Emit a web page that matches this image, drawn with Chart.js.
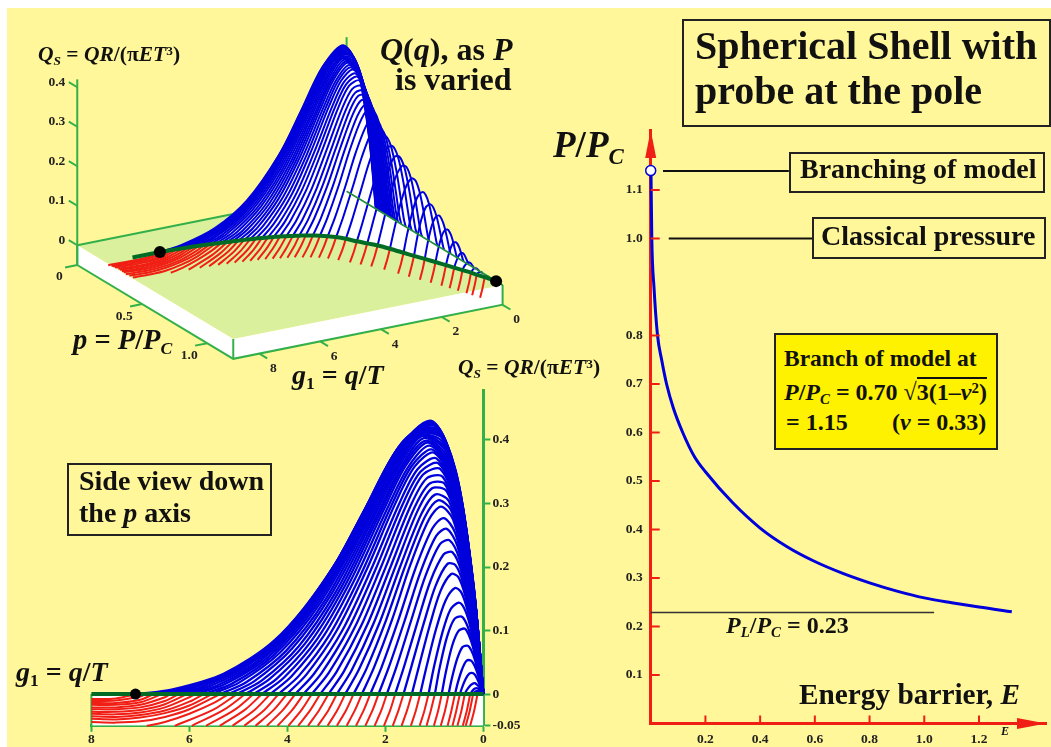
<!DOCTYPE html>
<html>
<head>
<meta charset="utf-8">
<script src="https://cdn.jsdelivr.net/npm/chart.js@4"></script>
<style>
html,body{margin:0;padding:0;background:#fff;overflow:hidden}
#page{position:absolute;left:7px;top:8px;width:1044px;height:739px;background:#FFF799}
canvas{position:absolute;left:0;top:0}
.t{position:absolute;white-space:nowrap;line-height:1;font-family:"Liberation Serif",serif;font-weight:bold;color:#111}
.t sub{font-size:.62em;line-height:0;vertical-align:-.3em}
.t sup{font-size:.62em;line-height:0;vertical-align:.45em}
.box{position:absolute;box-sizing:border-box;border:2px solid #222}
</style>
</head>
<body>
<div id="page"></div>
<canvas id="surface" width="1051" height="747"></canvas>
<canvas id="side" width="1051" height="747"></canvas>
<canvas id="barrier" width="1051" height="747"></canvas>

<div class="box" style="left:682px;top:19px;width:369px;height:108px"></div>
<div class="t" style="left:695px;top:26px;font-size:40px">Spherical Shell with</div>
<div class="t" style="left:695px;top:71px;font-size:40px">probe at the pole</div>
<div class="t" style="left:553px;top:126px;font-size:37px"><i>P</i>/<i>P<sub>C</sub></i></div>
<div class="box" style="left:789px;top:152px;width:256px;height:41px"></div>
<div class="t" style="left:800px;top:155px;font-size:28px">Branching of model</div>
<div class="box" style="left:812px;top:217px;width:234px;height:42px"></div>
<div class="t" style="left:821px;top:222px;font-size:28px">Classical pressure</div>
<div class="box" style="left:774px;top:333px;width:224px;height:117px;background:#FFF200"></div>
<div class="t" style="left:784px;top:347px;font-size:23.5px">Branch of model at</div>
<div class="t" style="left:784px;top:380px;font-size:24px"><i>P</i>/<i>P<sub>C</sub></i> = 0.70 √<span style="border-top:2px solid #111">3(1–<i>v</i><sup>2</sup>)</span></div>
<div class="t" style="left:786px;top:410px;font-size:24px">= 1.15</div>
<div class="t" style="left:892px;top:410px;font-size:24px">(<i>v</i> = 0.33)</div>
<div class="t" style="left:726px;top:613px;font-size:24px"><i>P<sub>L</sub></i>/<i>P<sub>C</sub></i> = 0.23</div>
<div class="t" style="left:799px;top:680px;font-size:29.3px">Energy barrier, <i>E</i></div>
<div class="t" style="left:1001px;top:725px;font-size:12px"><i>E</i></div>

<div class="t" style="left:38px;top:44px;font-size:21.5px"><i>Q<sub>S</sub></i> = <i>QR</i>/(π<i>ET</i><sup>3</sup>)</div>
<div class="t" style="left:380px;top:33px;font-size:32px"><i>Q</i>(<i>q</i>), as <i>P</i></div>
<div class="t" style="left:395px;top:63px;font-size:32px">is varied</div>
<div class="t" style="left:73px;top:326px;font-size:28.5px"><i>p</i> = <i>P</i>/<i>P<sub>C</sub></i></div>
<div class="t" style="left:292px;top:361px;font-size:28px"><i>g</i><sub>1</sub> = <i>q</i>/<i>T</i></div>
<div class="t" style="left:458px;top:357px;font-size:21.5px"><i>Q<sub>S</sub></i> = <i>QR</i>/(π<i>ET</i><sup>3</sup>)</div>
<div class="box" style="left:67px;top:463px;width:205px;height:73px"></div>
<div class="t" style="left:79px;top:467px;font-size:28px">Side view down</div>
<div class="t" style="left:79px;top:499px;font-size:28px">the <i>p</i> axis</div>
<div class="t" style="left:16px;top:658px;font-size:28px"><i>g</i><sub>1</sub> = <i>q</i>/<i>T</i></div>

<script>
// where each curve of the family crosses Q=0, and the P/Pc it belongs to
var zeroG=[.12,.21,.27,.38,.48,.58,.71,.85,.99,1.12,1.29,1.46,1.63,1.8,1.97,2.14,2.31,2.48,2.65,2.82,2.99,3.16,3.33,3.5,3.67,3.84,4.01,4.18,4.35,4.52,4.69,4.86,5.03,5.2,5.37,5.54,5.71,5.88,6.05,6.22,6.39,6.56,6.73,6.9,7.07];
var curveP=[1.09,1.05,1.02,.98,.94,.9,.85,.8,.75,.7,.635,.58,.54,.5,.455,.42,.395,.375,.36,.345,.335,.325,.315,.305,.298,.292,.286,.28,.275,.27,.266,.262,.258,.254,.25,.246,.242,.238,.236,.234,.232,.23,.228,.226,.224];
// positive part, read at these fractions of the crossing point
var frac=[.03,.08,.15,.25,.35,.45,.6,.75,.9];
var blueQ=[
[.000,.000,.001,.001,.002,.002,.002,.001,.001],
[.000,.001,.002,.004,.004,.005,.005,.004,.002],
[.001,.002,.004,.006,.008,.009,.009,.007,.003],
[.001,.004,.007,.012,.015,.017,.016,.012,.006],
[.002,.007,.014,.023,.030,.033,.032,.024,.011],
[.004,.012,.024,.038,.048,.053,.052,.039,.018],
[.005,.017,.034,.055,.069,.076,.074,.056,.026],
[.007,.023,.046,.074,.093,.103,.099,.076,.035],
[.008,.027,.054,.088,.111,.122,.118,.090,.042],
[.009,.033,.068,.110,.135,.144,.133,.096,.043],
[.011,.040,.082,.131,.160,.167,.147,.102,.043],
[.012,.046,.096,.153,.184,.189,.162,.108,.044],
[.014,.054,.111,.173,.203,.205,.170,.110,.044],
[.017,.062,.126,.193,.223,.220,.178,.112,.043],
[.019,.070,.141,.213,.242,.236,.186,.115,.043],
[.023,.082,.159,.234,.260,.249,.192,.116,.043],
[.028,.094,.178,.254,.277,.261,.198,.117,.042],
[.032,.106,.196,.275,.295,.274,.204,.118,.042],
[.037,.118,.213,.290,.305,.279,.203,.116,.040],
[.043,.131,.229,.304,.314,.283,.202,.113,.039],
[.048,.143,.246,.319,.324,.288,.201,.111,.037],
[.054,.155,.260,.331,.331,.291,.200,.109,.036],
[.060,.166,.275,.342,.339,.294,.199,.107,.035],
[.066,.178,.289,.354,.346,.297,.198,.105,.034],
[.072,.189,.301,.363,.350,.298,.196,.103,.033],
[.078,.200,.312,.371,.354,.298,.194,.100,.032],
[.084,.211,.324,.380,.358,.299,.192,.098,.031],
[.090,.221,.334,.385,.359,.296,.187,.094,.029],
[.096,.231,.344,.391,.359,.293,.183,.091,.028],
[.102,.241,.354,.396,.360,.290,.178,.087,.026],
[.109,.252,.363,.399,.358,.285,.172,.083,.024],
[.115,.262,.372,.403,.355,.279,.166,.079,.023],
[.122,.273,.381,.406,.353,.274,.160,.075,.021],
[.129,.282,.388,.407,.350,.268,.155,.072,.020],
[.136,.291,.395,.407,.346,.263,.149,.068,.019],
[.143,.300,.402,.408,.343,.257,.144,.065,.018],
[.147,.306,.406,.407,.338,.250,.138,.061,.016],
[.150,.312,.410,.406,.332,.243,.132,.057,.015],
[.154,.318,.414,.405,.327,.236,.126,.053,.013],
[.158,.324,.417,.403,.321,.229,.119,.049,.012],
[.162,.329,.421,.400,.314,.221,.112,.046,.011],
[.166,.335,.424,.398,.308,.214,.105,.042,.010],
[.170,.341,.426,.393,.300,.204,.099,.039,.009],
[.175,.346,.428,.389,.291,.195,.092,.035,.008],
[.179,.352,.430,.384,.283,.185,.086,.032,.007]
];
// negative part: nearly straight stripes, g where Q is stripeQ
var stripeQ=[-.025,-.05];
var stripeG=[[.185,.27],[.275,.36],[.335,.42],[.445,.53],[.55,.63],[.65,.73],[.78,.87],[.92,1.01],[1.07,1.16],[1.2,1.3],[1.375,1.48],[1.555,1.67],[1.73,1.85],[1.9,2.03],[2.08,2.22],[2.26,2.41],[2.44,2.6],[2.62,2.79],[2.8,2.99],[2.98,3.18],[3.16,3.38],[3.35,3.58],[3.53,3.78],[3.71,3.98],[3.9,4.2],[4.09,4.42],[4.28,4.65],[4.47,4.88],[4.67,5.12],[4.87,5.38],[5.08,5.66],[5.3,5.95],[5.52,6.3]];
// negative part of the last curves: shallow arcs, cut at g=8 in the side view only
var arcG=[[5.5,6,6.5,6.87],[6,6.5,7,7.5,8,8.1],[6,6.5,7,7.5,8,8.2],[6,6.5,7,7.5,8,8.3],[6,6.5,7,7.5,8,8.35],[6.5,7,7.5,8,8.4],[6.5,7,7.5,8,8.45],[6.5,7,7.5,8,8.5],[7,7.5,8,8.6],[7,7.5,8,8.65],[7,7.5,8,8.7],[7.5,8,8.8]];
var arcQ=[[-.014,-.031,-.044,-.05],[-.024,-.036,-.043,-.045,-.044,-.044],[-.018,-.03,-.037,-.04,-.039,-.038],[-.012,-.026,-.033,-.036,-.035,-.034],[-.005,-.021,-.029,-.032,-.031,-.029],[-.016,-.025,-.028,-.028,-.026],[-.011,-.021,-.024,-.024,-.022],[-.005,-.017,-.021,-.021,-.019],[-.013,-.017,-.017,-.015],[-.009,-.014,-.014,-.012],[-.004,-.01,-.011,-.01],[-.007,-.008,-.007]];
var branchP=1.15, limitP=.224, limitG=7.1;

// axes of the two left views
var plateG=8.86, plateP=1.2, plateZ=-.05;
var gTicks=[8,6,4,2,0];
var pTicks=[0,.5,1];
var pLabels=["0","0.5","1.0"];
var zTicks=[0,.1,.2,.3,.4];
var zLabels=["0","0.1","0.2","0.3","0.4"];
var sideTicks=[-.05,0,.1,.2,.3,.4];

// right plot
var energyE=[.001,.004,.012,.025,.04,.058,.083,.117,.16,.2,.3,.4,.5,.6,.7,.8,.9,1,1.1,1.2,1.32];
var energyP=[1.14,1,.9,.8,.75,.7,.65,.6,.55,.519,.455,.403,.364,.334,.31,.29,.273,.259,.249,.24,.2305];
var eTicks=[.2,.4,.6,.8,1,1.2];
var barrierTicks=[.1,.2,.3,.4,.5,.6,.7,.8,1,1.1];
var limitLineE=[0,1.036];
var limitLineP=[.229,.229];
var branchLineE=[.045,.505];
var classicLineE=[.066,.59];

var BLUE="#0000DC", RED="#F01E14", GREEN="#33B04A", DARK="#006B24", FLOOR="#DAF09C", TICKFONT='bold 13.5px "Liberation Serif"';
var tickFont={family:"Liberation Serif",weight:'bold',size:13.5};

function curveBlue(i){
    var pts=[{g:0,q:0}];
    for(var j=0;j<frac.length;j++) pts.push({g:zeroG[i]*frac[j],q:blueQ[i][j]});
    pts.push({g:zeroG[i],q:0});
    return pts;
}
function curveRed(i){
    var pts=[{g:zeroG[i],q:0}];
    var gs=i<stripeG.length?stripeG[i]:arcG[i-stripeG.length];
    var qs=i<stripeG.length?stripeQ:arcQ[i-stripeG.length];
    for(var j=0;j<gs.length;j++) pts.push({g:gs[j],q:qs[j]});
    return pts;
}

function layer(list,data,color,width,extra){
    var d={data:data,showLine:true,pointRadius:0,borderColor:color,borderWidth:width,backgroundColor:color,fill:false,tension:0,clip:false,order:-list.length};
    for(var k in extra) d[k]=extra[k];
    list.push(d);
}

// tilted view: g, p and Q go through this projection onto the page scales
function project(g,p,z){
    return {x:346.6-30.4*g+130*p,y:191.2+6.1*g+78.2*p-395*z};
}
function projectCurve(pts,p){
    return pts.map(function(a){return project(a.g,p,a.q);});
}

var surf=[];
var c1=project(plateG,0,0),c2=project(plateG,plateP,0),c3=project(0,plateP,0),c4=project(0,0,0);
var b1=project(plateG,0,plateZ),b2=project(plateG,plateP,plateZ),b3=project(0,plateP,plateZ);
layer(surf,[c1,c2,c3,c4,c1],FLOOR,0,{fill:'shape'});
layer(surf,[c1,c2,b2,b1,c1],"#fff",0,{fill:'shape'});
layer(surf,[c2,c3,b3,b2,c2],"#fff",0,{fill:'shape'});
layer(surf,[c1,b1,b2,b3,c3],GREEN,2);
layer(surf,[c2,b2],GREEN,2);
layer(surf,[project(plateG,0,plateZ),project(plateG,0,.42)],GREEN,2);
layer(surf,[c1,c4],GREEN,2);
layer(surf,[c4,project(0,0,.39)],GREEN,2);
gTicks.forEach(function(g){layer(surf,[project(g,plateP,plateZ),project(g,plateP+.06,plateZ)],GREEN,2);});
pTicks.forEach(function(p){layer(surf,[project(plateG,p,plateZ),project(plateG+.4,p,plateZ)],GREEN,2);});
zTicks.forEach(function(z){layer(surf,[project(plateG,0,z),project(plateG,-.065,z)],GREEN,2);});

var arc3d=[project(limitG,limitP,0)];
for(var i=zeroG.length-1;i>=0;i--) arc3d.push(project(zeroG[i],curveP[i],0));
arc3d.push(project(0,branchP,0));
layer(surf,arc3d.concat([project(0,limitP,0)]),"#fff",0,{fill:'shape'});
for(i=zeroG.length-1;i>=0;i--) layer(surf,projectCurve(curveBlue(i),curveP[i]),"#fff",0,{fill:'shape',tension:.3});
for(i=zeroG.length-1;i>=0;i--) layer(surf,projectCurve(curveRed(i),curveP[i]),RED,2,{tension:.3});
for(i=zeroG.length-1;i>=0;i--) layer(surf,projectCurve(curveBlue(i),curveP[i]),BLUE,2,{tension:.3});
layer(surf,[project(0,0,0),project(0,plateP,0)],"#1F8F3A",1.6);
layer(surf,[project(8,limitP,0)].concat(arc3d),DARK,4,{tension:.3});
layer(surf,[project(limitG,limitP,0),project(0,branchP,0)],"#000",0,{showLine:false,pointRadius:6,pointBackgroundColor:"#000"});

var surfLabels={id:'surfLabels',afterDraw:function(chart){
    var ctx=chart.ctx,sx=chart.scales.x,sy=chart.scales.y;
    ctx.save();
    ctx.font=TICKFONT;ctx.fillStyle="#222";ctx.textAlign="center";ctx.textBaseline="middle";
    gTicks.forEach(function(g){
        var a=project(g,plateP,plateZ);
        ctx.fillText(String(g),sx.getPixelForValue(a.x)+14,sy.getPixelForValue(a.y)+15);
    });
    pTicks.forEach(function(p,n){
        var a=project(plateG,p,plateZ);
        ctx.fillText(pLabels[n],sx.getPixelForValue(a.x)-18,sy.getPixelForValue(a.y)+12);
    });
    ctx.textAlign="right";
    zTicks.forEach(function(z,n){
        var a=project(plateG,0,z);
        ctx.fillText(zLabels[n],sx.getPixelForValue(a.x)-12,sy.getPixelForValue(a.y)-5);
    });
    ctx.restore();
}};

new Chart(document.getElementById("surface"),{
    type:'scatter',
    data:{datasets:surf},
    plugins:[surfLabels],
    options:{
        responsive:false,animation:false,events:[],
        layout:{padding:0,autoPadding:false},
        plugins:{legend:{display:false},tooltip:{enabled:false}},
        scales:{
            x:{type:'linear',min:0,max:1051,display:false},
            y:{type:'linear',min:0,max:747,reverse:true,display:false}
        }
    }
});

// side view
function flat(pts){
    return pts.filter(function(a){return a.g<=8;}).map(function(a){return {x:a.g,y:a.q};});
}
var sideSets=[];
layer(sideSets,[{x:8,y:0},{x:0,y:0}],"#fff",0,{fill:{value:-.05}});
layer(sideSets,flat(curveBlue(zeroG.length-1)),"#fff",0,{fill:'origin',tension:.3});
layer(sideSets,[{x:8,y:0},{x:8,y:-.05}],GREEN,2);
for(i=0;i<zeroG.length;i++) layer(sideSets,flat(curveRed(i)),RED,2,{tension:.3});
for(i=0;i<zeroG.length;i++) layer(sideSets,flat(curveBlue(i)),BLUE,2.3,{tension:.3});
layer(sideSets,[{x:8,y:0},{x:0,y:0}],DARK,4);
layer(sideSets,[{x:limitG,y:0}],"#000",0,{showLine:false,pointRadius:5.5,pointBackgroundColor:"#000"});

new Chart(document.getElementById("side"),{
    type:'scatter',
    data:{datasets:sideSets},
    options:{
        responsive:false,animation:false,events:[],
        layout:{padding:{left:91.4,right:1051-483.4-45,top:390,bottom:0},autoPadding:false},
        plugins:{legend:{display:false},tooltip:{enabled:false}},
        scales:{
            x:{
                type:'linear',min:0,max:8,reverse:true,
                afterBuildTicks:function(s){s.ticks=gTicks.map(function(v){return {value:v};});},
                afterFit:function(s){s.height=747-725.8;},
                border:{color:GREEN,width:3},
                grid:{drawOnChartArea:false,color:GREEN,tickColor:GREEN,tickLength:6,tickWidth:2},
                ticks:{color:"#222",font:tickFont,padding:0,maxRotation:0,autoSkip:false,callback:function(v){return String(v);}}
            },
            y:{
                type:'linear',position:'right',min:-.05,max:.4787,
                afterBuildTicks:function(s){s.ticks=sideTicks.map(function(v){return {value:v};});},
                afterFit:function(s){s.width=45;},
                border:{color:GREEN,width:3},
                grid:{drawOnChartArea:false,color:GREEN,tickColor:GREEN,tickLength:7,tickWidth:2},
                ticks:{color:"#222",font:tickFont,padding:2,autoSkip:false,callback:function(v){return String(v);}}
            }
        }
    }
});

// energy barrier plot
var barrierSets=[];
var energy=energyE.map(function(e,n){return {x:e,y:energyP[n]};});
layer(barrierSets,[{x:limitLineE[0],y:limitLineP[0]},{x:limitLineE[1],y:limitLineP[1]}],"#333",1.6);
layer(barrierSets,[{x:branchLineE[0],y:1.139},{x:branchLineE[1],y:1.139}],"#111",2);
layer(barrierSets,[{x:classicLineE[0],y:1},{x:classicLineE[1],y:1}],"#111",2);
layer(barrierSets,energy,BLUE,3,{cubicInterpolationMode:'monotone'});
layer(barrierSets,[{x:0,y:1.14}],BLUE,1.6,{showLine:false,pointRadius:5,pointBackgroundColor:"#fff",pointBorderColor:BLUE,pointBorderWidth:1.5});

var redAxes={id:'redAxes',afterDatasetsDraw:function(chart){
    var ctx=chart.ctx,a=chart.chartArea,sx=chart.scales.x,sy=chart.scales.y;
    ctx.save();
    ctx.strokeStyle=RED;ctx.fillStyle=RED;ctx.lineWidth=2;
    eTicks.forEach(function(v){
        var x=sx.getPixelForValue(v);
        ctx.beginPath();ctx.moveTo(x,a.bottom);ctx.lineTo(x,a.bottom-8);ctx.stroke();
    });
    barrierTicks.forEach(function(v){
        var y=sy.getPixelForValue(v);
        ctx.beginPath();ctx.moveTo(a.left,y);ctx.lineTo(a.left+9,y);ctx.stroke();
    });
    ctx.beginPath();ctx.moveTo(a.left,a.top);ctx.lineTo(a.left-5.5,a.top+28);ctx.lineTo(a.left+5.5,a.top+28);ctx.closePath();ctx.fill();
    ctx.beginPath();ctx.moveTo(a.right,a.bottom);ctx.lineTo(a.right-29,a.bottom-5.5);ctx.lineTo(a.right-29,a.bottom+5.5);ctx.closePath();ctx.fill();
    ctx.restore();
}};

new Chart(document.getElementById("barrier"),{
    type:'scatter',
    data:{datasets:barrierSets},
    plugins:[redAxes],
    options:{
        responsive:false,animation:false,events:[],
        layout:{padding:{left:610.7,right:5,top:130,bottom:0},autoPadding:false},
        plugins:{legend:{display:false},tooltip:{enabled:false}},
        scales:{
            x:{
                type:'linear',min:0,max:1.445,
                afterBuildTicks:function(s){s.ticks=eTicks.map(function(v){return {value:v};});},
                afterFit:function(s){s.height=747-723.5;},
                border:{color:RED,width:3},
                grid:{drawOnChartArea:false,drawTicks:false},
                ticks:{color:"#222",font:tickFont,padding:8,maxRotation:0,autoSkip:false,callback:function(v){return v.toFixed(1);}}
            },
            y:{
                type:'linear',min:0,max:1.2237,
                afterBuildTicks:function(s){s.ticks=barrierTicks.map(function(v){return {value:v};});},
                afterFit:function(s){s.width=40;},
                border:{color:RED,width:3},
                grid:{drawOnChartArea:false,drawTicks:false},
                ticks:{color:"#222",font:tickFont,padding:8,autoSkip:false,callback:function(v){return v.toFixed(1);}}
            }
        }
    }
});
</script>
</body>
</html>
